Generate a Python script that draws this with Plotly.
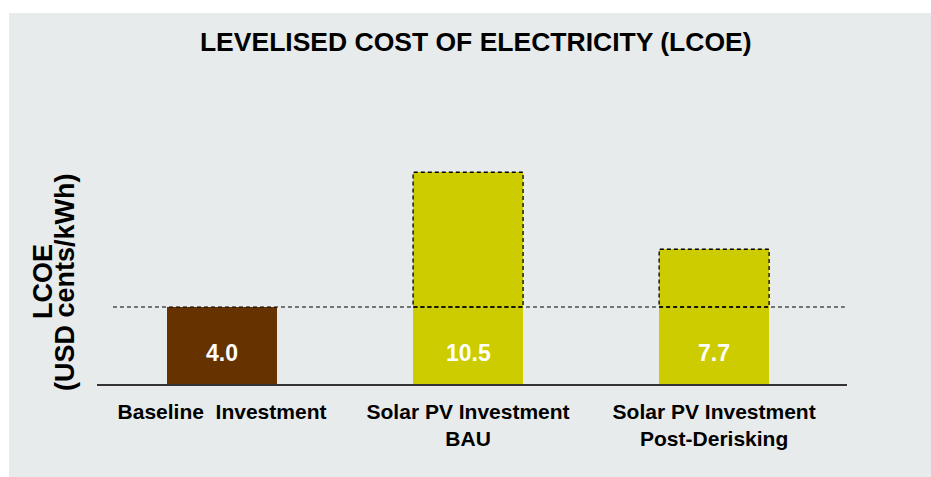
import plotly.graph_objects as go

categories = ["Baseline  Investment", "Solar PV Investment<br>BAU", "Solar PV Investment<br>Post-Derisking"]
base_values = [4.0, 4.0, 4.0]          # solid lower block (baseline level)
extra_values = [0.0, 7.0, 3.0]         # dashed upper block
value_labels = ["4.0", "10.5", "7.7"]
bar_colors = ["#663300", "#cccc00", "#cccc00"]

BAR_W = 0.447
FONT = "Liberation Sans, Arial, sans-serif"
DASH = "4px,3px"

fig = go.Figure()

fig.add_trace(go.Bar(x=categories, y=base_values, width=BAR_W,
                     marker=dict(color=bar_colors, line=dict(width=0)),
                     hoverinfo="skip"))
fig.add_trace(go.Bar(x=categories, y=extra_values, width=BAR_W,
                     marker=dict(color=bar_colors, line=dict(width=0)),
                     hoverinfo="skip"))

# white strips on top and left edge (rest of the page is the gray card)
fig.add_shape(type="rect", xref="paper", yref="paper",
              x0=-0.2, x1=1.2, y0=1.606, y1=1.8,
              fillcolor="white", line=dict(width=0), layer="below")
fig.add_shape(type="rect", xref="paper", yref="paper",
              x0=-0.2, x1=-0.1173, y0=-0.5, y1=1.8,
              fillcolor="white", line=dict(width=0), layer="below")

# dashed reference line at baseline level
fig.add_shape(type="line", xref="paper", yref="y",
              x0=0.0213, x1=0.997, y0=base_values[0], y1=base_values[0],
              line=dict(color="#000000", width=1.2, dash=DASH))

# dashed outline around the extra part
for i, (b, e) in enumerate(zip(base_values, extra_values)):
    if e > 0:
        fig.add_shape(type="rect", xref="x", yref="y",
                      x0=i - BAR_W / 2, x1=i + BAR_W / 2, y0=b, y1=b + e,
                      line=dict(color="#000000", width=1.3, dash=DASH))

# value labels inside lower block
for i, (b, lab) in enumerate(zip(base_values, value_labels)):
    fig.add_annotation(x=categories[i], y=b / 2, text=f"<b>{lab}</b>",
                       showarrow=False, yshift=-7,
                       font=dict(family=FONT, size=23, color="white"))

# y-axis title as two tight rotated lines
for xp, txt in [(-0.072, "LCOE"), (-0.0427, "(USD cents/kWh)")]:
    fig.add_annotation(xref="paper", yref="paper", x=xp, y=0.4416,
                       text=f"<b>{txt}</b>", textangle=-90, showarrow=False,
                       xanchor="center", yanchor="middle",
                       font=dict(family=FONT, size=27, color="black"))

fig.update_layout(
    barmode="stack",
    showlegend=False,
    width=931, height=477,
    margin=dict(l=97, r=84, t=153, b=93),
    paper_bgcolor="#e7ebeb",
    plot_bgcolor="rgba(0,0,0,0)",
    title=dict(text="<b>LEVELISED COST OF ELECTRICITY (LCOE)</b>",
               x=0.511, xanchor="center", y=0.912, yanchor="middle",
               font=dict(family=FONT, size=26.5, color="black")),
    font=dict(family=FONT, color="black"),
)

fig.update_xaxes(range=[-0.508, 2.54], showgrid=False, zeroline=False,
                 showline=True, linecolor="#333333", linewidth=1.5,
                 ticks="", ticklabelstandoff=8,
                 tickfont=dict(family=FONT, size=21, color="black"),
                 tickprefix="<b>", ticksuffix="</b>")
fig.update_yaxes(range=[0, 12], showgrid=False, zeroline=False,
                 showticklabels=False, showline=False)

fig.write_html("out.html", config={"displayModeBar": False},
               post_script="document.body.style.margin='0';"
                           "document.body.style.overflow='hidden';"
                           "document.documentElement.style.overflow='hidden';")
